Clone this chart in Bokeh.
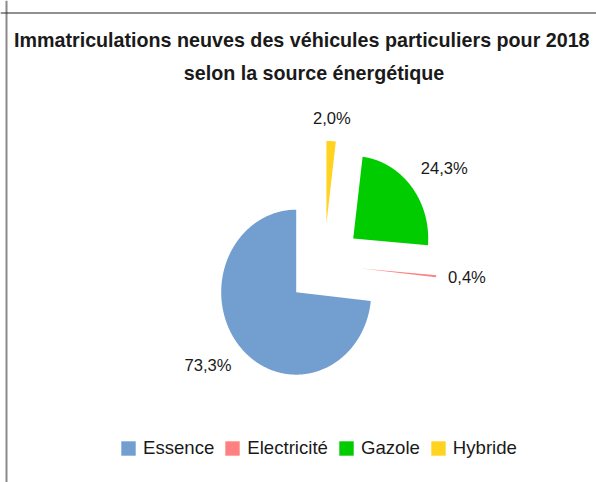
import numpy as np
from bokeh.plotting import figure
from bokeh.models import ColumnDataSource, Range1d, Label, Legend, LegendItem, Span
from bokeh.embed import file_html
from bokeh.resources import INLINE

# ---- data ----
categories = ["Essence", "Electricité", "Gazole", "Hybride"]
shares = [73.3, 0.4, 24.3, 2.0]
pct_labels = ["73,3%", "0,4%", "24,3%", "2,0%"]
colors = ["#729fcf", "#ff8080", "#00cc00", "#ffd320"]
title_lines = ["Immatriculations neuves des véhicules particuliers pour 2018",
               "selon la source énergétique"]

# ---- layout constants ----
W, H = 596, 482
CX, CY = 323.6, 264.1              # pie centre, canvas px
RX, RY = 75.0, 82.5                # pie radius in px (x / y)
EXPLODE = 0.5
LABEL_R = 1.66
START = 90.0
FONT = "Liberation Sans"
TXT = "#1a1a1a"


def sx(px):
    return (px - CX) / RX


def sy(py):
    return (CY - py) / RY


p = figure(width=W, height=H, output_backend="svg", toolbar_location=None,
           x_range=Range1d(sx(0), sx(W)), y_range=Range1d(sy(H), sy(0)),
           min_border=0, x_axis_type=None, y_axis_type=None)
p.grid.visible = False
p.outline_line_color = None
p.background_fill_color = "white"
p.border_fill_color = "white"

# border of the chart area (continues past the right / bottom edge)
p.add_layout(Span(location=sx(6), dimension="height", line_color="#8a8a8a", line_width=2))
p.add_layout(Span(location=sy(12.5), dimension="width", line_color="#222222", line_width=1))

# ---- wedges ----
fr = np.array(shares, dtype=float) / sum(shares)
ends = START + 360.0 * np.cumsum(fr)
starts = ends - 360.0 * fr
xs, ys, mids = [], [], []
for a0, a1 in zip(starts, ends):
    mid = np.radians((a0 + a1) / 2)
    mids.append(mid)
    ox, oy = EXPLODE * np.cos(mid), EXPLODE * np.sin(mid)
    t = np.radians(np.linspace(a0, a1, max(4, int((a1 - a0) * 2))))
    xs.append([float(ox)] + [float(v) for v in ox + np.cos(t)])
    ys.append([float(oy)] + [float(v) for v in oy + np.sin(t)])

src = ColumnDataSource(dict(xs=xs, ys=ys, color=colors, cat=categories))
r = p.patches("xs", "ys", source=src, fill_color="color", line_color=None)

# ---- percentage labels ----
for mid, lab in zip(mids, pct_labels):
    c, s = float(np.cos(mid)), float(np.sin(mid))
    align = "left" if c > 0.3 else ("right" if c < -0.3 else "center")
    base = "bottom" if s > 0.3 else ("top" if s < -0.3 else "middle")
    p.add_layout(Label(x=LABEL_R * c, y=LABEL_R * s, text=lab, text_align=align,
                       text_baseline=base, text_font=FONT,
                       text_font_size="16.6px", text_color=TXT))

# ---- title ----
for txt, cxp, cyp in zip(title_lines, [301.3, 313.5], [39.0, 72.8]):
    p.add_layout(Label(x=sx(cxp), y=sy(cyp), text=txt, text_align="center",
                       text_baseline="middle", text_font=FONT,
                       text_font_style="bold", text_font_size="19.7px", text_color=TXT))

# ---- legend ----
legend = Legend(items=[LegendItem(label=cat, renderers=[r], index=i)
                       for i, cat in enumerate(categories)],
                orientation="horizontal", location=(119, 23),
                glyph_width=18, glyph_height=18, label_standoff=6, spacing=9,
                padding=0, margin=0, border_line_color=None, background_fill_alpha=0,
                label_text_font=FONT, label_text_font_size="18.6px",
                label_text_color=TXT)
p.add_layout(legend)

open("out.html", "w").write(file_html(p, INLINE))
